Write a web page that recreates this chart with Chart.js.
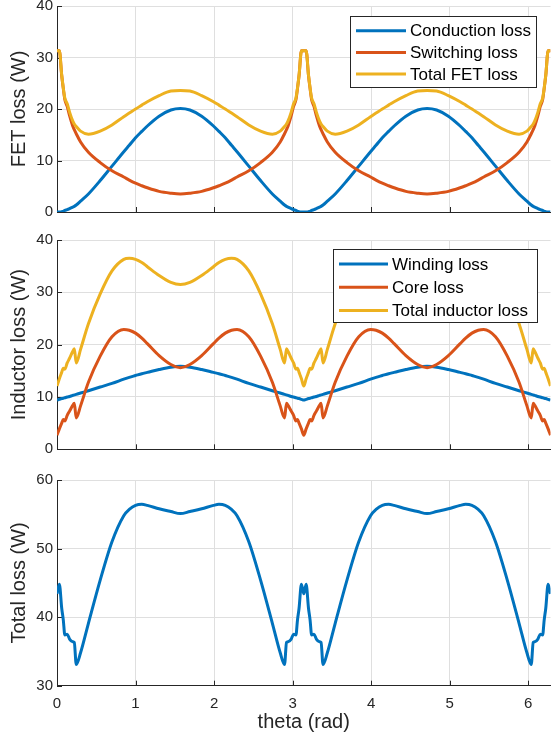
<!DOCTYPE html>
<html>
<head>
<meta charset="utf-8">
<script src="https://cdn.jsdelivr.net/npm/chart.js@4.4.1/dist/chart.umd.min.js"></script>
<style>
  html, body { margin: 0; padding: 0; background: #fff; }
  #wrap { position: relative; width: 552px; height: 746px; }
  canvas { position: absolute; left: 0; }
</style>
</head>
<body>
<div id="wrap">
  <canvas id="fetChart" width="552" height="226" style="top:0"></canvas>
  <canvas id="indChart" width="552" height="240" style="top:226px"></canvas>
  <canvas id="totalChart" width="552" height="280" style="top:466px"></canvas>
</div>
<script>
// electrical angle (rad)
const theta = [
  0, 0.03, 0.06, 0.08, 0.10, 0.13, 0.16, 0.20, 0.22, 0.245, 0.30, 0.40, 0.55, 0.70, 0.85, 0.92, 1.00, 1.08, 1.15, 1.30, 1.45,
  1.571,
  1.692, 1.842, 1.992, 2.062, 2.142, 2.222, 2.292, 2.442, 2.592, 2.742, 2.842, 2.897, 2.922, 2.942, 2.982, 3.012, 3.042, 3.062, 3.082, 3.112,
  3.142, 3.172, 3.202, 3.222, 3.242, 3.272, 3.302, 3.342, 3.362, 3.387, 3.442, 3.542, 3.692, 3.842, 3.992, 4.062, 4.142, 4.222, 4.292, 4.442, 4.592,
  4.712,
  4.833, 4.983, 5.133, 5.203, 5.283, 5.363, 5.433, 5.583, 5.733, 5.883, 5.983, 6.038, 6.063, 6.083, 6.123, 6.153, 6.183, 6.203, 6.223, 6.253,
  6.283
];

// FET losses (W)
const conductionLoss = [
  0, 0.02, 0.07, 0.13, 0.3, 0.45, 0.65, 0.95, 1.1, 1.35, 2.1, 3.5, 6.1, 8.9, 11.7, 12.95, 14.4, 15.65, 16.7, 18.6, 19.8,
  20.1,
  19.8, 18.6, 16.7, 15.65, 14.4, 12.95, 11.7, 8.9, 6.1, 3.5, 2.1, 1.35, 1.1, 0.95, 0.65, 0.45, 0.3, 0.13, 0.07, 0.02,
  0, 0.02, 0.07, 0.13, 0.3, 0.45, 0.65, 0.95, 1.1, 1.35, 2.1, 3.5, 6.1, 8.9, 11.7, 12.95, 14.4, 15.65, 16.7, 18.6, 19.8,
  20.1,
  19.8, 18.6, 16.7, 15.65, 14.4, 12.95, 11.7, 8.9, 6.1, 3.5, 2.1, 1.35, 1.1, 0.95, 0.65, 0.45, 0.3, 0.13, 0.07, 0.02,
  0
];
const switchingLoss = [
  31.3, 31.3, 26.5, 24.0, 21.8, 20.5, 18.7, 16.7, 16.0, 15.2, 13.6, 11.6, 9.6, 8.0, 6.8, 6.2, 5.6, 5.1, 4.7, 4.0, 3.65,
  3.5,
  3.65, 4.0, 4.7, 5.1, 5.6, 6.2, 6.8, 8.0, 9.6, 11.6, 13.6, 15.2, 16.0, 16.7, 18.7, 20.5, 21.8, 24.0, 26.5, 31.3,
  31.3, 31.3, 26.5, 24.0, 21.8, 20.5, 18.7, 16.7, 16.0, 15.2, 13.6, 11.6, 9.6, 8.0, 6.8, 6.2, 5.6, 5.1, 4.7, 4.0, 3.65,
  3.5,
  3.65, 4.0, 4.7, 5.1, 5.6, 6.2, 6.8, 8.0, 9.6, 11.6, 13.6, 15.2, 16.0, 16.7, 18.7, 20.5, 21.8, 24.0, 26.5, 31.3,
  31.3
];
const fetTotal = [
  31.3, 31.3, 26.6, 24.1, 22.1, 21.0, 19.4, 17.7, 17.1, 16.6, 15.7, 15.1, 15.7, 16.9, 18.5, 19.2, 20.0, 20.75, 21.4, 22.6, 23.5,
  23.6,
  23.5, 22.6, 21.4, 20.75, 20.0, 19.2, 18.5, 16.9, 15.7, 15.1, 15.7, 16.6, 17.1, 17.7, 19.4, 21.0, 22.1, 24.1, 26.6, 31.3,
  31.3, 31.3, 26.6, 24.1, 22.1, 21.0, 19.4, 17.7, 17.1, 16.6, 15.7, 15.1, 15.7, 16.9, 18.5, 19.2, 20.0, 20.75, 21.4, 22.6, 23.5,
  23.6,
  23.5, 22.6, 21.4, 20.75, 20.0, 19.2, 18.5, 16.9, 15.7, 15.1, 15.7, 16.6, 17.1, 17.7, 19.4, 21.0, 22.1, 24.1, 26.6, 31.3,
  31.3
];

// inductor losses (W)
const windingLoss = [
  9.4, 9.55, 9.7, 9.75, 9.85, 10.0, 10.1, 10.3, 10.4, 10.5, 10.75, 11.2, 11.9, 12.6, 13.4, 13.75, 14.1, 14.45, 14.7, 15.25, 15.7,
  15.85,
  15.7, 15.25, 14.7, 14.45, 14.1, 13.75, 13.4, 12.6, 11.9, 11.2, 10.75, 10.5, 10.4, 10.3, 10.1, 10.0, 9.85, 9.75, 9.7, 9.55,
  9.4, 9.55, 9.7, 9.75, 9.85, 10.0, 10.1, 10.3, 10.4, 10.5, 10.75, 11.2, 11.9, 12.6, 13.4, 13.75, 14.1, 14.45, 14.7, 15.25, 15.7,
  15.85,
  15.7, 15.25, 14.7, 14.45, 14.1, 13.75, 13.4, 12.6, 11.9, 11.2, 10.75, 10.5, 10.4, 10.3, 10.1, 10.0, 9.85, 9.75, 9.7, 9.55,
  9.4
];
const coreLoss = [
  2.7, 3.9, 5.0, 5.7, 5.4, 6.5, 7.3, 8.4, 8.8, 6.0, 8.3, 12.8, 17.8, 21.5, 22.9, 22.75, 22.2, 21.25, 20.2, 17.9, 16.2,
  15.6,
  16.2, 17.9, 20.2, 21.25, 22.2, 22.75, 22.9, 21.5, 17.8, 12.8, 8.3, 6.0, 8.8, 8.4, 7.3, 6.5, 5.4, 5.7, 5.0, 3.9,
  2.7, 3.9, 5.0, 5.7, 5.4, 6.5, 7.3, 8.4, 8.8, 6.0, 8.3, 12.8, 17.8, 21.5, 22.9, 22.75, 22.2, 21.25, 20.2, 17.9, 16.2,
  15.6,
  16.2, 17.9, 20.2, 21.25, 22.2, 22.75, 22.9, 21.5, 17.8, 12.8, 8.3, 6.0, 8.8, 8.4, 7.3, 6.5, 5.4, 5.7, 5.0, 3.9,
  2.7
];
const inductorTotal = [
  12.1, 13.5, 14.7, 15.5, 15.3, 16.5, 17.4, 18.7, 19.2, 16.5, 19.1, 24.0, 29.7, 34.1, 36.3, 36.5, 36.3, 35.7, 34.9, 33.2, 31.9,
  31.5,
  31.9, 33.2, 34.9, 35.7, 36.3, 36.5, 36.3, 34.1, 29.7, 24.0, 19.1, 16.5, 19.2, 18.7, 17.4, 16.5, 15.3, 15.5, 14.7, 13.5,
  12.1, 13.5, 14.7, 15.5, 15.3, 16.5, 17.4, 18.7, 19.2, 16.5, 19.1, 24.0, 29.7, 34.1, 36.3, 36.5, 36.3, 35.7, 34.9, 33.2, 31.9,
  31.5,
  31.9, 33.2, 34.9, 35.7, 36.3, 36.5, 36.3, 34.1, 29.7, 24.0, 19.1, 16.5, 19.2, 18.7, 17.4, 16.5, 15.3, 15.5, 14.7, 13.5,
  12.1
];

// FET + inductor (W)
const totalLoss = [
  43.4, 44.8, 41.3, 39.6, 37.4, 37.5, 36.8, 36.4, 36.3, 33.1, 34.8, 39.1, 45.4, 51.0, 54.8, 55.7, 56.3, 56.45, 56.3, 55.8, 55.4,
  55.1,
  55.4, 55.8, 56.3, 56.45, 56.3, 55.7, 54.8, 51.0, 45.4, 39.1, 34.8, 33.1, 36.3, 36.4, 36.8, 37.5, 37.4, 39.6, 41.3, 44.8,
  43.4, 44.8, 41.3, 39.6, 37.4, 37.5, 36.8, 36.4, 36.3, 33.1, 34.8, 39.1, 45.4, 51.0, 54.8, 55.7, 56.3, 56.45, 56.3, 55.8, 55.4,
  55.1,
  55.4, 55.8, 56.3, 56.45, 56.3, 55.7, 54.8, 51.0, 45.4, 39.1, 34.8, 33.1, 36.3, 36.4, 36.8, 37.5, 37.4, 39.6, 41.3, 44.8,
  43.4
];

// axis ticks
const xTicks = [0, 1, 2, 3, 4, 5, 6];
const fetTicks = [0, 10, 20, 30, 40];
const inductorTicks = [0, 10, 20, 30, 40];
const totalTicks = [30, 40, 50, 60];

const FONT = '"Liberation Sans", Arial, Helvetica, sans-serif';
const AXIS = '#262626';
const GRID = '#dfdfdf';
const BLUE = '#0072BD';
const RED = '#D95319';
const YELLOW = '#EDB120';

function points(values) {
  return theta.map((t, i) => ({ x: t, y: values[i] }));
}

function line(label, values, color, order) {
  return {
    label: label,
    data: points(values),
    borderColor: color,
    borderWidth: 3,
    pointRadius: 0,
    cubicInterpolationMode: "monotone",
    fill: false,
    order: order,
  };
}

// MATLAB style tick marks pointing into the axes
const inwardTicks = {
  id: "inwardTicks",
  beforeDatasetsDraw(chart) {
    const { ctx, chartArea, scales } = chart;
    ctx.save();
    ctx.strokeStyle = AXIS;
    ctx.lineWidth = 1;
    ctx.beginPath();
    scales.x.ticks.forEach((t) => {
      const px = Math.round(scales.x.getPixelForValue(t.value)) + 0.5;
      ctx.moveTo(px, chartArea.bottom);
      ctx.lineTo(px, chartArea.bottom - 5);
    });
    scales.y.ticks.forEach((t) => {
      const py = Math.round(scales.y.getPixelForValue(t.value)) + 0.5;
      ctx.moveTo(chartArea.left, py);
      ctx.lineTo(chartArea.left + 5, py);
    });
    ctx.stroke();
    ctx.restore();
  },
};

// boxed legend drawn inside the plot area
const boxLegend = {
  id: "boxLegend",
  afterDatasetsDraw(chart, args, opts) {
    if (!opts || !opts.show) return;
    const ctx = chart.ctx;
    ctx.save();
    ctx.fillStyle = "#fff";
    ctx.fillRect(opts.x, opts.y, opts.w, opts.h);
    ctx.strokeStyle = AXIS;
    ctx.lineWidth = 1;
    ctx.strokeRect(opts.x + 0.5, opts.y + 0.5, opts.w, opts.h);
    ctx.font = "17px " + FONT;
    ctx.textBaseline = "middle";
    chart.data.datasets.forEach((ds, i) => {
      const cy = opts.y + opts.firstRow + i * opts.rowGap;
      ctx.strokeStyle = ds.borderColor;
      ctx.lineWidth = 3;
      ctx.beginPath();
      ctx.moveTo(opts.x + 6, cy);
      ctx.lineTo(opts.x + 6 + opts.sample, cy);
      ctx.stroke();
      ctx.fillStyle = "#000";
      ctx.fillText(ds.label, opts.x + 10 + opts.sample, cy + 1);
    });
    ctx.restore();
  },
};

function makeChart(id, datasets, cfg) {
  return new Chart(document.getElementById(id), {
    type: "line",
    data: { datasets: datasets },
    plugins: [inwardTicks, boxLegend],
    options: {
      responsive: false,
      animation: false,
      layout: { padding: { top: cfg.padTop, right: 1.5, bottom: 0, left: 0 } },
      scales: {
        x: {
          type: "linear",
          min: 0,
          max: 2 * Math.PI,
          afterBuildTicks: (s) => { s.ticks = xTicks.map((v) => ({ value: v })); },
          ticks: { display: cfg.showX, color: AXIS, padding: 9, font: { family: FONT, size: 15 } },
          grid: { color: GRID, drawTicks: false },
          border: { color: AXIS, width: 1 },
          title: {
            display: cfg.showX,
            text: "theta (rad)",
            color: AXIS,
            font: { family: FONT, size: 20 },
            padding: { top: 2, bottom: 12 },
          },
          afterFit: (s) => { s.height = cfg.xHeight; s.paddingLeft = 0; s.paddingRight = 0; },
        },
        y: {
          min: cfg.yTicks[0],
          max: cfg.yTicks[cfg.yTicks.length - 1],
          afterBuildTicks: (s) => { s.ticks = cfg.yTicks.map((v) => ({ value: v })); },
          ticks: { color: AXIS, padding: 4, font: { family: FONT, size: 15 } },
          grid: { color: GRID, drawTicks: false },
          border: { color: AXIS, width: 1 },
          title: {
            display: true,
            text: cfg.yTitle,
            color: AXIS,
            font: { family: FONT, size: 20 },
            padding: { top: 7, bottom: 0 },
          },
          afterFit: (s) => { s.width = 57; s.paddingTop = 0; s.paddingBottom = 0; },
        },
      },
      plugins: {
        legend: { display: false },
        tooltip: { enabled: false },
        boxLegend: cfg.legend || { show: false },
      },
    },
  });
}

makeChart("fetChart", [
  line("Conduction loss", conductionLoss, BLUE, 2),
  line("Switching loss", switchingLoss, RED, 1),
  line("Total FET loss", fetTotal, YELLOW, 0),
], {
  padTop: 6, xHeight: 14, showX: false, yTicks: fetTicks, yTitle: "FET loss (W)",
  legend: { show: true, x: 350, y: 16, w: 186, h: 71, firstRow: 14.7, rowGap: 21.7, sample: 50 },
});

makeChart("indChart", [
  line("Winding loss", windingLoss, BLUE, 2),
  line("Core loss", coreLoss, RED, 1),
  line("Total inductor loss", inductorTotal, YELLOW, 0),
], {
  padTop: 14, xHeight: 16.7, showX: false, yTicks: inductorTicks, yTitle: "Inductor loss (W)",
  legend: { show: true, x: 333, y: 23, w: 204, h: 73, firstRow: 15, rowGap: 23.2, sample: 49 },
});

makeChart("totalChart", [
  line("Total loss", totalLoss, BLUE, 0),
], {
  padTop: 14, xHeight: 60.3, showX: true, yTicks: totalTicks, yTitle: "Total loss (W)",
});
</script>
</body>
</html>
